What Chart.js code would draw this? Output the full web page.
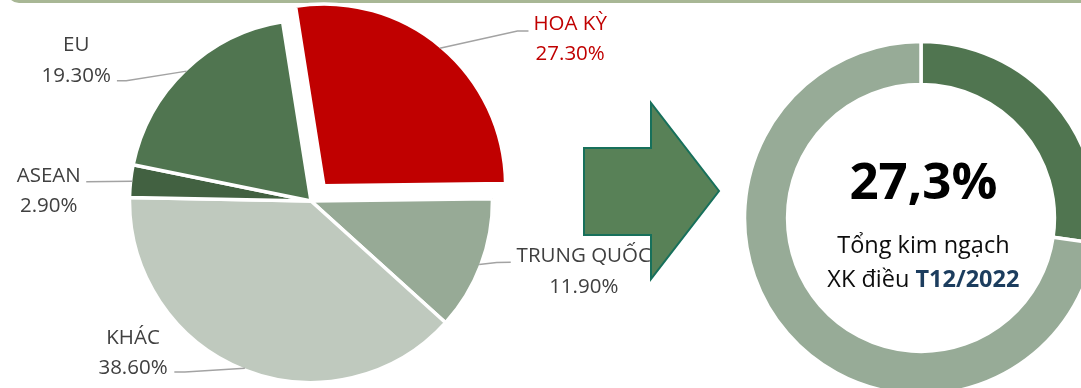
<!DOCTYPE html>
<html lang="vi">
<head>
<meta charset="utf-8">
<title>Thị trường xuất khẩu điều T12/2022</title>
<script src="https://cdn.jsdelivr.net/npm/chart.js@4.4.1/dist/chart.umd.min.js"></script>
<style>
  html, body { margin: 0; padding: 0; background: #ffffff; }
  body { width: 1081px; height: 388px; overflow: hidden; position: relative; }
  .frame {
    position: absolute; left: 7px; top: -30px; width: 1100px; height: 30px;
    border-left: 3px solid #A8B795; border-bottom: 3px solid #A8B795;
    border-bottom-left-radius: 12px;
  }
  canvas, svg { position: absolute; left: 0; top: 0; }
</style>
</head>
<body>
<div class="frame"></div>
<canvas id="pieChart" width="1081" height="388"></canvas>
<svg id="arrow" width="1081" height="388" viewBox="0 0 1081 388">
  <polygon points="584,148 651,148 651,103 719,191 651,279 651,235 584,235"
           fill="#588157" stroke="#17705B" stroke-width="2" stroke-linejoin="miter"/>
</svg>
<canvas id="ringChart" width="1081" height="388"></canvas>

<script>
// Export markets for cashew, share of total value (%)
const regions = ['HOA KỲ', 'TRUNG QUỐC', 'KHÁC', 'ASEAN', 'EU'];
const shares = [27.3, 11.9, 38.6, 2.9, 19.3];
const sliceColors = ['#C00000', '#97AA96', '#BFC9BE', '#426141', '#507550'];
const labelColors = ['#C00000', '#404040', '#404040', '#404040', '#404040'];
const sliceOffsets = [80, 0, 0, 0, 0];

// Ring: United States share vs. the rest of the world
const ringLabels = ['HOA KỲ', 'Còn lại'];
const ringValues = [27.3, 72.7];
const ringColors = ['#507550', '#97AB97'];
const ringCaption = ['Tổng kim ngạch', 'XK điều ', 'T12/2022'];

const LABEL_FONT = '20.5px "Open Sans", "Noto Sans", sans-serif';
const LINE_PITCH = 30.5;

// Leader line and label placement, relative to the point on each slice's rim
const leaderLayout = [
  { elbow: [77.7, -17.4], end: [88.7, -17.4], text: [130.4, -18.4] },
  { elbow: [17.6, -2.1],  end: [31.6, -2.3],  text: [104.6, -2.3] },
  { elbow: [-60, 3.9],    end: [-70.5, 3.9],  text: [-111.8, -24.4] },
  { elbow: [-46.1, 0.4],  end: [-46.1, 0.4],  text: [-83.6, 0.4] },
  { elbow: [-60.5, 9.7],  end: [-69.8, 9.7],  text: [-110.5, -20] }
];

const pieLabels = {
  id: 'pieLabels',
  afterDatasetsDraw(chart) {
    const ctx = chart.ctx;
    const ds = chart.data.datasets[0];
    const meta = chart.getDatasetMeta(0);
    ctx.save();
    meta.data.forEach((arc, i) => {
      const p = arc.getProps(['x', 'y', 'startAngle', 'endAngle', 'outerRadius'], true);
      const mid = (p.startAngle + p.endAngle) / 2;
      const shift = (ds.offset[i] || 0) / 4;
      const r = p.outerRadius - ds.borderWidth / 2;
      const ex = p.x + Math.cos(mid) * (shift + r);
      const ey = p.y + Math.sin(mid) * (shift + r);
      const lay = leaderLayout[i];

      ctx.beginPath();
      ctx.moveTo(ex, ey);
      ctx.lineTo(ex + lay.elbow[0], ey + lay.elbow[1]);
      ctx.lineTo(ex + lay.end[0], ey + lay.end[1]);
      ctx.strokeStyle = '#A3A3A3';
      ctx.lineWidth = 1.5;
      ctx.stroke();

      ctx.font = LABEL_FONT;
      ctx.fillStyle = labelColors[i];
      ctx.textAlign = 'center';
      ctx.textBaseline = 'alphabetic';
      const tx = ex + lay.text[0], ty = ey + lay.text[1];
      ctx.fillText(chart.data.labels[i], tx, ty);
      ctx.fillText(shares[i].toFixed(2) + '%', tx, ty + LINE_PITCH);
    });
    ctx.restore();
  }
};

const ringCenter = {
  id: 'ringCenter',
  afterDatasetsDraw(chart) {
    const ctx = chart.ctx;
    const arc = chart.getDatasetMeta(0).data[0];
    const cx = arc.x + 2.4, cy = arc.y;
    ctx.save();
    ctx.textAlign = 'center';
    ctx.textBaseline = 'alphabetic';

    ctx.font = 'bold 51px "Open Sans", "Noto Sans", sans-serif';
    ctx.fillStyle = '#000000';
    ctx.fillText(ringValues[0].toFixed(1).replace('.', ',') + '%', cx, cy - 19.5);

    const normal = '23.5px "Open Sans", "Noto Sans", sans-serif';
    const bold = 'bold 23.5px "Open Sans", "Noto Sans", sans-serif';
    ctx.font = normal;
    ctx.fillStyle = '#0D0D0D';
    ctx.fillText(ringCaption[0], cx, cy + 35);

    const w1 = ctx.measureText(ringCaption[1]).width;
    ctx.font = bold;
    const w2 = ctx.measureText(ringCaption[2]).width;
    const left = cx - (w1 + w2) / 2;
    ctx.textAlign = 'left';
    ctx.font = normal;
    ctx.fillStyle = '#0D0D0D';
    ctx.fillText(ringCaption[1], left, cy + 68.7);
    ctx.font = bold;
    ctx.fillStyle = '#1C3D5E';
    ctx.fillText(ringCaption[2], left + w1, cy + 68.7);
    ctx.restore();
  }
};

const common = {
  responsive: false,
  animation: false,
  events: [],
  plugins: { legend: { display: false }, tooltip: { enabled: false }, title: { display: false } }
};

new Chart(document.getElementById('pieChart'), {
  type: 'pie',
  data: {
    labels: regions,
    datasets: [{
      data: shares,
      backgroundColor: sliceColors,
      borderColor: '#ffffff',
      borderWidth: 3.5,
      offset: sliceOffsets,
      clip: false
    }]
  },
  options: Object.assign({}, common, {
    rotation: -9,
    radius: 181.5,
    layout: { padding: { left: 0, right: 459, top: 14, bottom: 0 } }
  }),
  plugins: [pieLabels]
});

new Chart(document.getElementById('ringChart'), {
  type: 'doughnut',
  data: {
    labels: ringLabels,
    datasets: [{
      data: ringValues,
      backgroundColor: ringColors,
      borderColor: '#ffffff',
      borderWidth: 3.5,
      clip: false
    }]
  },
  options: Object.assign({}, common, {
    rotation: 0,
    radius: 176.5,
    cutout: '75.6%',
    layout: { padding: { left: 761, right: 0, top: 48, bottom: 0 } }
  }),
  plugins: [ringCenter]
});
</script>
</body>
</html>
